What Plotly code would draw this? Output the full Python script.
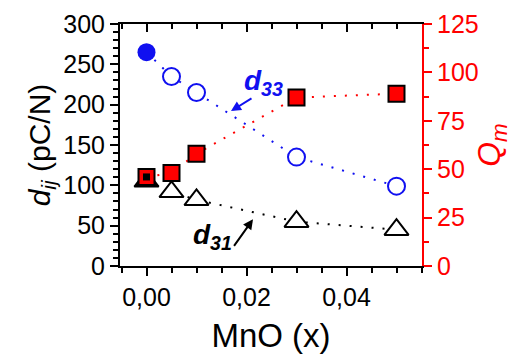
import plotly.graph_objects as go

mno = [0.0, 0.005, 0.01, 0.03, 0.05]
d33 = [265, 235, 215, 135, 99]
d31 = [105, 92, 82, 55, 45]
qm = [46, 48, 58, 87, 89]

FONT = "Liberation Sans, Arial, sans-serif"
BLUE = "#1010f0"
RED = "#ff0000"

fig = go.Figure()

dot = "2px,9px"

# lines first
fig.add_trace(go.Scatter(x=mno, y=d31, mode="lines", line=dict(color="black", width=2, dash=dot),
                         showlegend=False, hoverinfo="skip"))
fig.add_trace(go.Scatter(x=mno, y=d33, mode="lines", line=dict(color=BLUE, width=2, dash=dot),
                         showlegend=False, hoverinfo="skip"))

# d31 (black triangles)
fig.add_trace(go.Scatter(x=mno[1:], y=d31[1:], mode="markers",
                         marker=dict(symbol="triangle-up", size=21, color="white",
                                     line=dict(width=2, color="black")),
                         showlegend=False))
fig.add_trace(go.Scatter(x=mno[:1], y=d31[:1], mode="markers",
                         marker=dict(symbol="triangle-up", size=21, color="black",
                                     line=dict(width=2, color="black")),
                         showlegend=False))

# d33 (blue circles)
fig.add_trace(go.Scatter(x=mno[1:], y=d33[1:], mode="markers",
                         marker=dict(symbol="circle", size=17, color="white",
                                     line=dict(width=2, color=BLUE)),
                         showlegend=False))
fig.add_trace(go.Scatter(x=mno[:1], y=d33[:1], mode="markers",
                         marker=dict(symbol="circle", size=18, color=BLUE),
                         showlegend=False))

# Qm (red squares) on right axis
fig.add_trace(go.Scatter(x=mno, y=qm, mode="lines", yaxis="y2",
                         line=dict(color=RED, width=2, dash=dot),
                         showlegend=False, hoverinfo="skip"))
fig.add_trace(go.Scatter(x=mno, y=qm, mode="markers", yaxis="y2",
                         marker=dict(symbol="square", size=16, color=RED, line=dict(width=2, color="black")),
                         showlegend=False))
fig.add_trace(go.Scatter(x=mno[:1], y=qm[:1], mode="markers", yaxis="y2",
                         marker=dict(symbol="square", size=7, color="black"),
                         showlegend=False))

xr = [-0.0053, 0.0551]

fig.update_layout(
    width=526, height=354,
    margin=dict(l=120, r=104, t=24, b=88),
    plot_bgcolor="white", paper_bgcolor="white",
    separators=",.",
    font=dict(family=FONT, size=24, color="black"),
    xaxis=dict(range=xr, tick0=0, dtick=0.02, tickformat=".2f", automargin=False,
               ticks="outside", ticklen=8, tickwidth=2, tickcolor="black",
               showline=True, linecolor="black", linewidth=2,
               minor=dict(dtick=0.005, ticks="outside", ticklen=5, tickwidth=2, tickcolor="black"),
               showgrid=False, zeroline=False,
               tickfont=dict(size=25),
               title=dict(text="MnO (x)", font=dict(size=33), standoff=14)),
    xaxis2=dict(range=xr, overlaying="x", side="top", tick0=0, dtick=0.02, automargin=False,
                ticks="inside", ticklen=8, tickwidth=2, tickcolor="black",
                showline=True, linecolor="black", linewidth=2,
                minor=dict(dtick=0.005, ticks="inside", ticklen=5, tickwidth=2, tickcolor="black"),
                showticklabels=False, showgrid=False, zeroline=False),
    yaxis=dict(range=[0, 300], dtick=50, ticks="outside", ticklen=8, tickwidth=2, tickcolor="black",
               showline=True, linecolor="black", linewidth=2, automargin=False,
               minor=dict(dtick=10, ticks="outside", ticklen=5, tickwidth=2, tickcolor="black"),
               showgrid=False, zeroline=False, tickfont=dict(size=25),
               title=dict(text="<i>d</i><sub><i>ij</i></sub> (pC/N)", font=dict(size=30), standoff=4)),
    yaxis2=dict(range=[0, 125], dtick=25, overlaying="y", side="right", automargin=False,
                ticks="outside", ticklen=8, tickwidth=2, tickcolor=RED,
                showline=True, linecolor=RED, linewidth=2,
                minor=dict(dtick=12.5, ticks="outside", ticklen=5, tickwidth=2, tickcolor=RED),
                showgrid=False, zeroline=False, tickfont=dict(size=25, color=RED),
                title=dict(text="<i>Q</i><sub><i>m</i></sub>", font=dict(size=32, color=RED), standoff=0)),
)

# dummy trace to activate xaxis2
fig.add_trace(go.Scatter(x=[None], y=[None], xaxis="x2", showlegend=False))

# annotations
fig.add_annotation(x=0.0169, y=192, ax=0.0213, ay=209, xref="x", yref="y", axref="x", ayref="y",
                   text="", showarrow=True, arrowhead=2, arrowsize=1, arrowwidth=2, arrowcolor=BLUE)
fig.add_annotation(x=0.0234, y=228, xref="x", yref="y", showarrow=False,
                   text="<b><i>d</i></b><sub><b><i>33</i></b></sub>", font=dict(size=28, color=BLUE))
fig.add_annotation(x=0.0213, y=58, ax=0.0173, ay=23, xref="x", yref="y", axref="x", ayref="y",
                   text="", showarrow=True, arrowhead=2, arrowsize=1, arrowwidth=2, arrowcolor="black")
fig.add_annotation(x=0.0132, y=36, xref="x", yref="y", showarrow=False,
                   text="<b><i>d</i></b><sub><b><i>31</i></b></sub>", font=dict(size=28, color="black"))

fig.write_html("out.html")
